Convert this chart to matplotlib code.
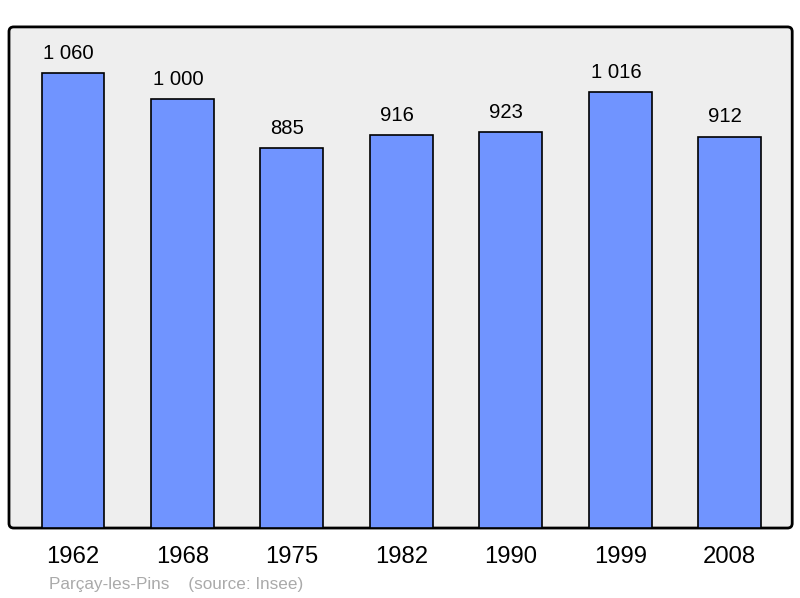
import matplotlib
matplotlib.use("Agg")
import matplotlib.pyplot as plt
from matplotlib.patches import FancyBboxPatch

years = ["1962", "1968", "1975", "1982", "1990", "1999", "2008"]
population = [1060, 1000, 885, 916, 923, 1016, 912]
commune = "Parçay-les-Pins"
source = "(source: Insee)"

BAR_COLOR = "#7094ff"
BG_COLOR = "#eeeeee"
FONT = "Liberation Sans"

fig = plt.figure(figsize=(8, 5.98), dpi=100)
ax = fig.add_axes([0.01125, 0.117, 0.979, 0.838])
ax.patch.set_visible(False)
for spine in ax.spines.values():
    spine.set_visible(False)

# rounded frame
frame = FancyBboxPatch((0, 0), 1, 1, boxstyle="round,pad=0,rounding_size=0.006",
                       mutation_aspect=783 / 501, transform=ax.transAxes,
                       facecolor=BG_COLOR, edgecolor="black", linewidth=2,
                       zorder=0, clip_on=False)
ax.add_patch(frame)

x = list(range(len(years)))
ax.bar(x, population, width=0.575, color=BAR_COLOR, edgecolor="black",
       linewidth=1.2, zorder=2)

for xi, v in zip(x, population):
    label = f"{v:,}".replace(",", " ")
    ax.annotate(label, (xi, v), xytext=(-3.2, 7.5), textcoords="offset points",
                ha="center", va="bottom", fontsize=14.6, family=FONT)

ax.set_xlim(-0.585, 6.571)
ax.set_ylim(0, 1168)
ax.set_xticks(x)
ax.set_xticklabels(years, fontsize=17.2, family=FONT)
ax.tick_params(axis="x", length=0, pad=13)
ax.set_yticks([])

fig.text(49 / 800, 1 - 584 / 598, commune + "    " + source, fontsize=12.3,
         color="#aaaaaa", family=FONT, ha="left", va="center")

fig.savefig("out.png", dpi=100, facecolor="white")
